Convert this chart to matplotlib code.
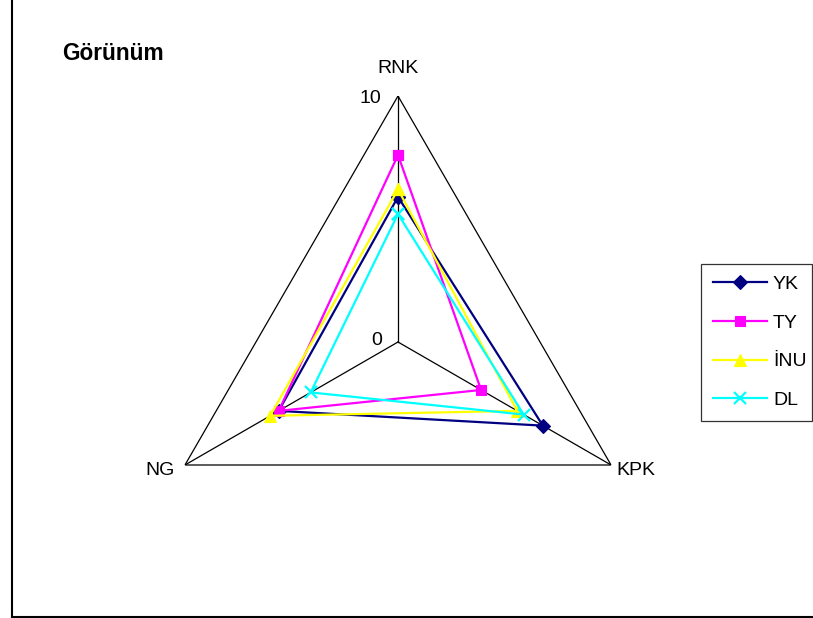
import numpy as np
import matplotlib
matplotlib.use("Agg")
import matplotlib.pyplot as plt
from matplotlib.lines import Line2D

plt.rcParams['font.family'] = ['Liberation Sans', 'DejaVu Sans']

# Radar categories (clockwise from the top) and series scores
categories = ["RNK", "KPK", "NG"]
series_names = ["YK", "TY", "İNU", "DL"]
yk = [5.9, 6.8, 5.6]
ty = [7.6, 3.9, 5.6]
inu = [6.2, 5.6, 6.0]
dl = [5.2, 5.9, 4.1]
series_values = [yk, ty, inu, dl]
r_max = 10
tick_labels = ["0", "10"]
title_text = "Görünüm"

colors = ["#000080", "#FF00FF", "#FFFF00", "#00FFFF"]
markers = ["D", "s", "^", "x"]
msizes = [7, 7.5, 9, 9]

W, H = 813, 618
fig = plt.figure(figsize=(W / 100, H / 100), dpi=100)

cx, cy, R = 398, 342, 246
ax = fig.add_axes([(cx - R) / W, (H - cy - R) / H, 2 * R / W, 2 * R / H],
                  projection="polar")
ax.set_theta_zero_location("N")
ax.set_theta_direction(-1)
ax.set_ylim(0, r_max)
ax.grid(False)
ax.spines["polar"].set_visible(False)
ax.set_xticks([])
ax.set_yticks([])
ax.patch.set_alpha(0)

angles = np.deg2rad([0, 120, 240])
closed = np.append(angles, angles[0])

# Triangular frame and spokes
ax.plot(closed, [r_max] * 4, color="black", lw=0.9, zorder=1)
for a in angles:
    ax.plot([a, a], [0, r_max], color="black", lw=0.9, zorder=1)

# Series
for name, vals, c, m, ms in zip(series_names, series_values, colors, markers, msizes):
    v = list(vals) + [vals[0]]
    ax.plot(closed, v, color=c, lw=1.6, marker=m, markersize=ms,
            markeredgewidth=1.6 if m == "x" else 0.8, markeredgecolor=c,
            markerfacecolor=c, label=name, zorder=3, clip_on=False)

# Category labels
offsets = [(0, 20), (18, -4), (-18, -4)]
for a, lab, off in zip(angles, categories, offsets):
    ax.annotate(lab, xy=(a, r_max), xytext=off, textcoords="offset points",
                ha="center", va="center", fontsize=14, annotation_clip=False)

# Radial scale labels
ax.annotate(tick_labels[1], xy=(0, r_max), xytext=(-20, -2), textcoords="offset points",
            ha="center", va="center", fontsize=14, annotation_clip=False)
ax.annotate(tick_labels[0], xy=(0, 0), xytext=(-15, 1), textcoords="offset points",
            ha="center", va="center", fontsize=14, annotation_clip=False)

fig.text(62 / W, 1 - 54 / H, title_text, fontsize=16.3, fontweight="bold",
         ha="left", va="center")

leg = fig.legend(loc="upper left",
                 bbox_to_anchor=(701 / W, 1 - 417 / H, 111 / W, 153 / H),
                 mode="expand", frameon=True, fancybox=False, edgecolor="black",
                 borderaxespad=0, fontsize=14, handlelength=2.8,
                 handletextpad=0.3, labelspacing=1.08, borderpad=0.6)
leg.get_frame().set_linewidth(0.9)

# Outer chart border (left and bottom)
fig.add_artist(Line2D([12 / W, 12 / W], [1 / H, 1.0], color="black", lw=1.5,
                      transform=fig.transFigure))
fig.add_artist(Line2D([12 / W, 1.0], [1.5 / H, 1.5 / H], color="black", lw=1.5,
                      transform=fig.transFigure))

fig.savefig("out.png", dpi=100)
